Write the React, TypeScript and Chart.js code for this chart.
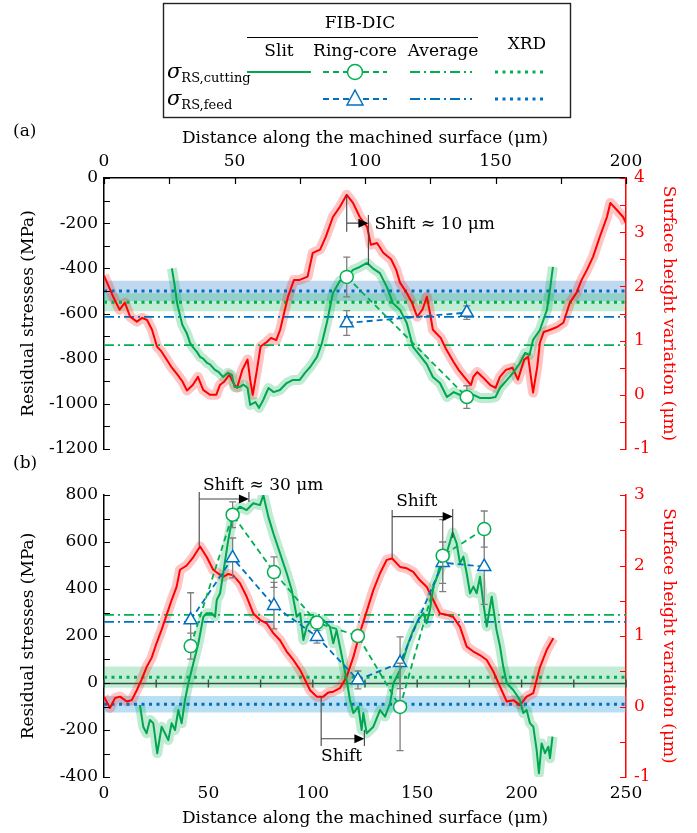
import React, { useEffect, useRef } from 'react';
import { Chart, registerables } from 'chart.js';
Chart.register(...registerables);

type P = [number, number];

const FONT = '"DejaVu Serif", "Liberation Serif", serif';
const FS = 17;
const RED = '#ff0000';
const GREEN = '#00a651';
const GREEN_RC = '#00b050';
const BLUE = '#0070c0';
const XLABEL = 'Distance along the machined surface (μm)';
const YLABEL = 'Residual stresses (MPa)';
const Y2LABEL = 'Surface height variation (μm)';

// ---------------- Panel (a) data ----------------
const surfaceA: P[] = [
  [0, 2.2], [3.5, 1.81], [6, 1.57], [8, 1.7], [10, 1.44], [12.6, 1.35], [14.6, 1.42], [16.5, 1.38], [18.4, 1.2], [20.3, 0.89],
  [22, 0.8], [24, 0.65], [26, 0.5], [28, 0.38], [30, 0.25], [31.8, 0.08], [34, 0.18], [36, 0.33], [38, 0.09], [40.6, 0.0],
  [43, 0.0], [44.4, 0.18], [46, 0.24], [48, 0.37], [50, 0.18], [51, 0.13], [53, 0.46], [55, 0.65], [56, 0.28], [57, 0.0],
  [58.6, 0.46], [60, 0.89], [62.5, 0.98], [64, 1.05], [66, 1.01], [67.5, 1.2], [69, 1.51], [70.5, 1.81], [72.8, 2.12], [75, 2.12],
  [78, 2.18], [80, 2.62], [82.8, 2.68], [85, 2.92], [87.7, 3.28], [90.4, 3.47], [93, 3.69], [95.4, 3.54], [98, 3.28], [100.8, 3.1],
  [101.5, 2.95], [102.2, 2.77], [104.6, 2.8], [107, 2.62], [110, 2.5], [112, 2.3], [113.4, 2.07], [116, 1.88], [118, 1.7], [120, 1.44],
  [122, 1.57], [123.7, 1.81], [124.9, 1.51], [126, 1.2], [129, 1.05], [131, 0.85], [134, 0.6], [136, 0.45], [138, 0.33], [140.6, 0.18],
  [141.5, 0.33], [143, 0.42], [145, 0.33], [148, 0.18], [150, 0.13], [151.7, 0.33], [154, 0.46], [156.5, 0.5], [158.6, 0.28], [161, 0.65],
  [162.5, 0.7], [164.4, 0.04], [166, 0.52], [167, 0.96], [168.5, 1.16], [171, 1.2], [173.6, 1.25], [176, 1.33], [178.5, 1.7], [181, 1.88],
  [183, 2.12], [185, 2.3], [187.4, 2.55], [190, 2.92], [192.7, 3.28], [194, 3.54], [196.5, 3.41], [198.9, 3.28], [200, 3.17],
];
const slitA: P[] = [
  [26, -400], [27, -470], [28, -554], [30, -650], [31.8, -690], [33, -731], [34, -748], [35.6, -770], [36.8, -792], [38, -800],
  [39.5, -819], [40.6, -825], [42.5, -850], [44, -860], [45.6, -881], [47.5, -863], [49, -872], [50, -925], [52, -925], [53.5, -915],
  [55, -930], [56, -1005], [58, -992], [59.4, -1018], [61, -983], [63, -930], [65, -948], [67.4, -939], [70, -908], [72.4, -894],
  [75, -894], [77, -863], [79, -837], [81.6, -792], [83.5, -731], [85.4, -640], [87.7, -510], [90.4, -455], [93, -438], [95.4, -407],
  [98, -394], [100.8, -376], [103, -400], [105.7, -421], [108.4, -483], [110.7, -554], [113.4, -584], [116, -642], [118.4, -748], [121, -785],
  [123.7, -825], [126, -881], [128.7, -908], [131.4, -970], [134, -948], [136.4, -961], [140, -952], [144, -974], [148, -974], [150, -970],
  [151.7, -930], [154.4, -894], [156.7, -863], [159.4, -819], [161.3, -775], [163, -784], [164.4, -717], [167, -673], [169.7, -584], [171, -483],
  [172, -394],
];
const ringXA = [93, 139];
const ringCutA = [-438, -970];
const ringCutAErr = [88, 50];
const ringFeedA = [-642, -596];
const ringFeedAErr = [55, 30];
const avgCutA = -740;
const avgFeedA = -615;
const xrdCutA = -550;
const xrdCutAErr = 40;
const xrdFeedA = -500;
const xrdFeedAErr = 45;

// ---------------- Panel (b) data ----------------
const surfaceB: P[] = [
  [0, 0.14], [2.9, -0.02], [5.3, 0.12], [7.7, 0.14], [10.9, 0.07], [13.3, 0.09], [15.7, 0.23], [18, 0.38], [20.4, 0.56], [22.8, 0.69],
  [25.2, 0.9], [27.6, 1.09], [30, 1.3], [32.4, 1.51], [34.8, 1.7], [36.4, 1.94], [39.6, 2.0], [42.8, 2.12], [46, 2.27], [49.2, 2.12],
  [52.3, 1.94], [55, 1.88], [57.1, 1.84], [59.5, 1.88], [61.9, 1.86], [65.1, 1.75], [68.3, 1.56], [71.5, 1.32], [74.7, 1.23], [77.9, 1.18],
  [81.1, 1.04], [84.3, 0.94], [87.5, 0.78], [90.7, 0.66], [93.9, 0.52], [97.1, 0.33], [98.7, 0.23], [101.9, 0.14], [105, 0.14], [107.5, 0.2],
  [109.8, 0.21], [113, 0.26], [116.2, 0.42], [119.4, 0.7], [122.6, 1.05], [125.8, 1.35], [129, 1.65], [132.2, 1.89], [135.4, 2.08], [138, 2.1],
  [141.8, 1.98], [145, 1.96], [148.1, 1.91], [151.3, 1.79], [154.5, 1.7], [157.7, 1.51], [160.9, 1.32], [164.1, 1.3], [167.3, 1.27], [170.5, 1.13],
  [173.7, 0.85], [176.9, 0.78], [180, 0.73], [183.3, 0.66], [186.4, 0.5], [189.7, 0.28], [192.9, 0.07], [196, 0.09], [199.2, 0.02], [202.4, 0.14],
  [205.6, 0.19], [208.8, 0.56], [212, 0.8], [215.2, 0.97],
];
const slitB: P[] = [
  [17.2, -94], [18.8, -186], [20.4, -214], [22, -157], [23.6, -171], [25.5, -299], [27.6, -186], [29.2, -214], [30.8, -243], [32.4, -171],
  [34, -200], [35.6, -115], [37.2, -171], [38.8, -72], [40.4, -1], [42.8, 84], [45.2, 169], [47.6, 282], [49.2, 297], [51.6, 297],
  [53.2, 282], [54, 353], [55.6, 382], [57.1, 467], [59.5, 608], [61.9, 722], [65.1, 750], [68.3, 736], [71.5, 765], [74.7, 757],
  [76.3, 800], [78.7, 708], [81.1, 637], [84.3, 552], [87.5, 467], [89.9, 396], [92.3, 282], [93.9, 297], [95.5, 183], [97.1, 240],
  [100.2, 282], [103.4, 240], [105, 268], [108.2, 240], [109.8, 169], [111.4, 225], [113, 154], [114.6, 84], [116.2, 13], [117.8, -72],
  [119.4, -128], [121.8, -101], [123.4, -200], [124.2, -128], [125.8, -214], [129, -186], [132.2, -115], [134.6, -143], [137, -86], [138.6, -1],
  [141.8, 55], [143.3, 98], [145.7, 169], [148.1, 225], [150.5, 268], [153, 297], [154.5, 254], [156.1, 311], [157.7, 410], [160.9, 481],
  [164.1, 552], [167, 640], [168.9, 594], [170.5, 509], [172.1, 538], [173.7, 467], [175.3, 382], [176.9, 410], [178.5, 382], [180.1, 452],
  [181.7, 339], [183.3, 240], [185.7, 367], [188, 225], [189.7, 154], [191.2, 70], [192.9, -1], [196, -30], [199.2, -72], [200.8, -128],
  [202.4, -115], [204, -171], [205.6, -186], [207.2, -285], [208.3, -384], [209.6, -257], [211.2, -299], [212.8, -271], [213.6, -320], [214.8, -228],
];
const ringXB = [41.5, 61.6, 81.4, 102, 121.6, 141.8, 162.2, 182.1];
const ringCutB = [157, 716, 472, 257, 200, -102, 542, 655];
const ringCutBErr = [55, 55, 65, 20, 20, 186, 153, 77];
const ringFeedB = [268, 532, 329, 197, 13, 86, 512, 495];
const ringFeedBErr = [116, 85, 99, 27, 38, 110, 88, 160];
const avgCutB = 290;
const avgFeedB = 260;
const xrdCutB = 25;
const xrdCutBErr = 45;
const xrdFeedB = -90;
const xrdFeedBErr = 35;

// Shift annotations (data coordinates on the stress axis)
interface Shift { x1: number; x2: number; l1: P; l2: P; ya: number; text: string; tx: number; ty: number; align: CanvasTextAlign }
const shiftsA: Shift[] = [
  { x1: 93, x2: 101.3, l1: [-75, -238], l2: [-164, -385], ya: -200, text: 'Shift ≈ 10 μm', tx: 103.6, ty: -208, align: 'left' },
];
const shiftsB: Shift[] = [
  { x1: 45.6, x2: 69.4, l1: [813, 583], l2: [813, 770], ya: 783, text: 'Shift ≈ 30 μm', tx: 47.4, ty: 842, align: 'left' },
  { x1: 138, x2: 167, l1: [736, 531], l2: [740, 617], ya: 708, text: 'Shift', tx: 149.8, ty: 771, align: 'center' },
  { x1: 104, x2: 124.7, l1: [-59, -268], l2: [-200, -268], ya: -237, text: 'Shift', tx: 113.8, ty: -314, align: 'center' },
];

const toPts = (a: P[]) => a.map(([x, y]) => ({ x, y }));
const hline = (y: number, x1: number) => [{ x: 0, y }, { x: x1, y }];
const zipPts = (xs: number[], ys: number[]) => xs.map((x, i) => ({ x, y: ys[i] }));

interface PanelData {
  surface: P[]; slit: P[]; ringX: number[]; ringCut: number[]; ringCutErr: number[]; ringFeed: number[]; ringFeedErr: number[];
  avgCut: number; avgFeed: number; xrdCut: number; xrdCutErr: number; xrdFeed: number; xrdFeedErr: number; xMax: number; blueBand: string;
}

function buildDatasets(d: PanelData): any[] {
  const base = { pointRadius: 0, pointHoverRadius: 0, tension: 0, fill: false, borderJoinStyle: 'round' as const };
  return [
    { ...base, data: hline(d.xrdFeed - d.xrdFeedErr, d.xMax), borderWidth: 0, borderColor: 'transparent', fill: { value: d.xrdFeed + d.xrdFeedErr }, backgroundColor: d.blueBand, order: 100 },
    { ...base, data: hline(d.xrdCut - d.xrdCutErr, d.xMax), borderWidth: 0, borderColor: 'transparent', fill: { value: d.xrdCut + d.xrdCutErr }, backgroundColor: 'rgba(0,176,80,0.24)', order: 99 },
    { ...base, data: toPts(d.surface), yAxisID: 'y2', borderWidth: 10, borderColor: 'rgba(255,40,40,0.27)', order: 90 },
    { ...base, data: toPts(d.slit), borderWidth: 10, borderColor: 'rgba(0,176,80,0.25)', order: 89 },
    { ...base, data: hline(d.avgCut, d.xMax), borderWidth: 1.8, borderColor: GREEN_RC, borderDash: [10, 4, 2, 4], order: 60 },
    { ...base, data: hline(d.avgFeed, d.xMax), borderWidth: 1.8, borderColor: BLUE, borderDash: [10, 4, 2, 4], order: 59 },
    { ...base, data: hline(d.xrdCut, d.xMax), borderWidth: 3, borderColor: GREEN_RC, borderDash: [3, 4.5], order: 58 },
    { ...base, data: hline(d.xrdFeed, d.xMax), borderWidth: 3, borderColor: BLUE, borderDash: [3, 4.5], order: 57 },
    { ...base, data: toPts(d.surface), yAxisID: 'y2', borderWidth: 2, borderColor: RED, order: 40 },
    { ...base, data: toPts(d.slit), borderWidth: 2, borderColor: GREEN, order: 39 },
    {
      ...base, data: zipPts(d.ringX, d.ringFeed), errors: d.ringFeedErr, borderWidth: 1.8, borderColor: BLUE, borderDash: [6, 4],
      pointRadius: 7.5, pointStyle: 'triangle', pointBackgroundColor: '#ffffff', pointBorderColor: BLUE, pointBorderWidth: 1.5, order: 11,
    },
    {
      ...base, data: zipPts(d.ringX, d.ringCut), errors: d.ringCutErr, borderWidth: 1.8, borderColor: GREEN_RC, borderDash: [6, 4],
      pointRadius: 6.5, pointStyle: 'circle', pointBackgroundColor: '#ffffff', pointBorderColor: GREEN_RC, pointBorderWidth: 1.5, order: 10,
    },
  ];
}

interface OverlayCfg { xStep: number; yStep: number; y2Step: number; topTicks: boolean; zeroAxis: boolean; shifts: Shift[] }

function overlayPlugin(cfg: OverlayCfg) {
  return {
    id: 'overlay',
    beforeDatasetsDraw(chart: any) {
      if (!cfg.zeroAxis) return;
      const { ctx, chartArea: ca, scales } = chart;
      const py = Math.round(scales.y.getPixelForValue(0)) + 0.5;
      ctx.save();
      ctx.strokeStyle = '#3c3c3c';
      ctx.lineWidth = 1.4;
      ctx.beginPath();
      ctx.moveTo(ca.left, py);
      ctx.lineTo(ca.right, py);
      for (let v = scales.x.min; v <= scales.x.max + 1e-6; v += cfg.xStep) {
        const px = scales.x.getPixelForValue(v);
        ctx.moveTo(px, py - 4);
        ctx.lineTo(px, py + 4);
      }
      ctx.stroke();
      ctx.restore();
    },
    beforeDatasetDraw(chart: any, args: any) {
      const ds = chart.data.datasets[args.index];
      if (!ds.errors) return;
      const { ctx, scales } = chart;
      ctx.save();
      ctx.strokeStyle = '#7f7f7f';
      ctx.lineWidth = 1.3;
      ctx.beginPath();
      ds.data.forEach((p: any, i: number) => {
        const e = ds.errors[i];
        const px = scales.x.getPixelForValue(p.x);
        const y1 = scales.y.getPixelForValue(p.y + e);
        const y2 = scales.y.getPixelForValue(p.y - e);
        ctx.moveTo(px, y1); ctx.lineTo(px, y2);
        ctx.moveTo(px - 3.5, y1); ctx.lineTo(px + 3.5, y1);
        ctx.moveTo(px - 3.5, y2); ctx.lineTo(px + 3.5, y2);
      });
      ctx.stroke();
      ctx.restore();
    },
    afterDraw(chart: any) {
      const { ctx, chartArea: ca, scales } = chart;
      const L = 6;
      ctx.save();
      ctx.lineWidth = 1.2;
      ctx.strokeStyle = '#000';
      ctx.beginPath();
      for (let v = scales.y.min; v <= scales.y.max + 1e-6; v += cfg.yStep) {
        const py = Math.round(scales.y.getPixelForValue(v)) + 0.5;
        ctx.moveTo(ca.left, py); ctx.lineTo(ca.left + L, py);
      }
      if (cfg.topTicks) {
        for (let v = scales.x.min; v <= scales.x.max + 1e-6; v += cfg.xStep) {
          const px = Math.round(scales.x.getPixelForValue(v)) + 0.5;
          ctx.moveTo(px, ca.top); ctx.lineTo(px, ca.top + L);
        }
      }
      ctx.stroke();
      ctx.strokeStyle = RED;
      ctx.beginPath();
      for (let v = scales.y2.min; v <= scales.y2.max + 1e-6; v += cfg.y2Step) {
        const py = Math.round(scales.y2.getPixelForValue(v)) + 0.5;
        ctx.moveTo(ca.right - L, py); ctx.lineTo(ca.right, py);
      }
      ctx.stroke();
      ctx.lineWidth = 1.1;
      for (const s of cfg.shifts) {
        const X1 = scales.x.getPixelForValue(s.x1);
        const X2 = scales.x.getPixelForValue(s.x2);
        const YA = scales.y.getPixelForValue(s.ya);
        ctx.strokeStyle = '#444';
        ctx.beginPath();
        ctx.moveTo(X1, scales.y.getPixelForValue(s.l1[0])); ctx.lineTo(X1, scales.y.getPixelForValue(s.l1[1]));
        ctx.moveTo(X2, scales.y.getPixelForValue(s.l2[0])); ctx.lineTo(X2, scales.y.getPixelForValue(s.l2[1]));
        ctx.moveTo(X1, YA); ctx.lineTo(X2 - 8, YA);
        ctx.stroke();
        ctx.fillStyle = '#000';
        ctx.beginPath();
        ctx.moveTo(X2, YA); ctx.lineTo(X2 - 10, YA - 4.5); ctx.lineTo(X2 - 10, YA + 4.5); ctx.closePath();
        ctx.fill();
        ctx.font = `${FS}px ${FONT}`;
        ctx.textAlign = s.align;
        ctx.textBaseline = 'middle';
        ctx.fillText(s.text, scales.x.getPixelForValue(s.tx), scales.y.getPixelForValue(s.ty));
      }
      ctx.restore();
    },
  };
}

const axisFont = { family: FONT, size: FS };

function makeOptions(opts: { xMax: number; yMin: number; yMax: number; y2Min: number; y2Max: number; xTop: boolean; padTop: number; padBottom: number; xAxisH: number }): any {
  return {
    responsive: false,
    animation: false,
    events: [],
    layout: { padding: { top: opts.padTop, bottom: opts.padBottom, left: 0, right: 0 } },
    plugins: { legend: { display: false }, tooltip: { enabled: false } },
    scales: {
      x: {
        type: 'linear', position: opts.xTop ? 'top' : 'bottom', min: 0, max: opts.xMax,
        ticks: { stepSize: 50, color: '#000', font: axisFont, padding: opts.xTop ? 6 : 6, maxRotation: 0, callback: (v: any) => String(v) },
        grid: { display: opts.xTop, drawOnChartArea: false, drawTicks: false, color: 'transparent' },
        border: { display: opts.xTop, color: '#000', width: 1.5 },
        title: { display: true, text: XLABEL, color: '#000', font: axisFont, padding: { top: opts.xTop ? 10 : 4, bottom: opts.xTop ? 2 : 4 } },
        afterFit: (s: any) => { s.height = opts.xAxisH; },
      },
      y: {
        type: 'linear', position: 'left', min: opts.yMin, max: opts.yMax,
        ticks: { stepSize: 200, color: '#000', font: axisFont, padding: 6, callback: (v: any) => String(v) },
        grid: { display: true, drawOnChartArea: false, drawTicks: false, color: 'transparent' },
        border: { display: true, color: '#000', width: 1.5 },
        title: { display: true, text: YLABEL, color: '#000', font: axisFont, padding: { top: 18, bottom: 0 } },
        afterFit: (s: any) => { s.width = 104; },
      },
      y2: {
        type: 'linear', position: 'right', min: opts.y2Min, max: opts.y2Max,
        ticks: { stepSize: 1, color: RED, font: axisFont, padding: 8, callback: (v: any) => String(v) },
        grid: { display: true, drawOnChartArea: false, drawTicks: false, color: 'transparent' },
        border: { display: true, color: RED, width: 1.5 },
        title: { display: true, text: Y2LABEL, color: RED, font: axisFont, padding: { top: 18, bottom: 0 } },
        afterFit: (s: any) => { s.width = 71; },
      },
    },
  };
}

function Panel(props: { top: number; height: number; data: PanelData; options: any; overlay: OverlayCfg }) {
  const ref = useRef<HTMLCanvasElement | null>(null);
  useEffect(() => {
    if (!ref.current) return;
    const chart = new Chart(ref.current, {
      type: 'line',
      data: { datasets: buildDatasets(props.data) },
      options: props.options,
      plugins: [overlayPlugin(props.overlay)],
    } as any);
    return () => chart.destroy();
  }, []);
  return (
    <canvas
      ref={ref}
      width={697}
      height={props.height}
      style={{ position: 'absolute', left: 0, top: props.top, width: 697, height: props.height }}
    />
  );
}

function Legend() {
  const t = { fontFamily: FONT, fontSize: FS, fill: '#000' } as any;
  const rowY = [72, 99];
  return (
    <svg width={697} height={833} style={{ position: 'absolute', left: 0, top: 0, pointerEvents: 'none' }}>
      <rect x={163.5} y={3.5} width={407} height={114} fill="none" stroke="#222" strokeWidth={1.4} />
      <text x={360} y={28} textAnchor="middle" {...t}>FIB-DIC</text>
      <line x1={247} y1={37.5} x2={478} y2={37.5} stroke="#000" strokeWidth={1.2} />
      <text x={279} y={56} textAnchor="middle" {...t}>Slit</text>
      <text x={355} y={56} textAnchor="middle" {...t}>Ring-core</text>
      <text x={443} y={56} textAnchor="middle" {...t}>Average</text>
      <text x={527} y={49} textAnchor="middle" {...t}>XRD</text>
      <text x={167} y={78} {...t}>
        <tspan fontStyle="italic" fontSize={21}>σ</tspan>
        <tspan fontSize={13} dy={4}>RS,cutting</tspan>
      </text>
      <text x={167} y={105} {...t}>
        <tspan fontStyle="italic" fontSize={21}>σ</tspan>
        <tspan fontSize={13} dy={4}>RS,feed</tspan>
      </text>
      <line x1={247} y1={rowY[0]} x2={311} y2={rowY[0]} stroke={GREEN} strokeWidth={2} />
      <line x1={323} y1={rowY[0]} x2={387} y2={rowY[0]} stroke={GREEN_RC} strokeWidth={1.8} strokeDasharray="6 4" />
      <circle cx={355} cy={rowY[0]} r={7.5} fill="#fff" stroke={GREEN_RC} strokeWidth={1.5} />
      <line x1={410} y1={rowY[0]} x2={472} y2={rowY[0]} stroke={GREEN_RC} strokeWidth={1.8} strokeDasharray="10 4 2 4" />
      <line x1={495} y1={rowY[0]} x2={547} y2={rowY[0]} stroke={GREEN_RC} strokeWidth={3} strokeDasharray="3 4.5" />
      <line x1={323} y1={rowY[1]} x2={387} y2={rowY[1]} stroke={BLUE} strokeWidth={1.8} strokeDasharray="6 4" />
      <polygon points={`355,${rowY[1] - 9} 363,${rowY[1] + 6} 347,${rowY[1] + 6}`} fill="#fff" stroke={BLUE} strokeWidth={1.5} />
      <line x1={410} y1={rowY[1]} x2={472} y2={rowY[1]} stroke={BLUE} strokeWidth={1.8} strokeDasharray="10 4 2 4" />
      <line x1={495} y1={rowY[1]} x2={547} y2={rowY[1]} stroke={BLUE} strokeWidth={3} strokeDasharray="3 4.5" />
      <text x={13} y={136} {...t}>(a)</text>
      <text x={13} y={468} {...t}>(b)</text>
    </svg>
  );
}

export default function App() {
  const dataA: PanelData = {
    surface: surfaceA, slit: slitA, ringX: ringXA, ringCut: ringCutA, ringCutErr: ringCutAErr, ringFeed: ringFeedA, ringFeedErr: ringFeedAErr,
    avgCut: avgCutA, avgFeed: avgFeedA, xrdCut: xrdCutA, xrdCutErr: xrdCutAErr, xrdFeed: xrdFeedA, xrdFeedErr: xrdFeedAErr, xMax: 200,
    blueBand: 'rgba(90,150,215,0.38)',
  };
  const dataB: PanelData = {
    surface: surfaceB, slit: slitB, ringX: ringXB, ringCut: ringCutB, ringCutErr: ringCutBErr, ringFeed: ringFeedB, ringFeedErr: ringFeedBErr,
    avgCut: avgCutB, avgFeed: avgFeedB, xrdCut: xrdCutB, xrdCutErr: xrdCutBErr, xrdFeed: xrdFeedB, xrdFeedErr: xrdFeedBErr, xMax: 250,
    blueBand: 'rgba(70,170,225,0.38)',
  };
  const optsA = makeOptions({ xMax: 200, yMin: -1200, yMax: 0, y2Min: -1, y2Max: 4, xTop: true, padTop: 0, padBottom: 21, xAxisH: 60 });
  const optsB = makeOptions({ xMax: 250, yMin: -400, yMax: 800, y2Min: -1, y2Max: 3, xTop: false, padTop: 25, padBottom: 0, xAxisH: 56 });
  return (
    <div style={{ position: 'absolute', left: 0, top: 0, width: 697, height: 833, background: '#fff' }}>
      <Panel top={118} height={352} data={dataA} options={optsA}
        overlay={{ xStep: 25, yStep: 100, y2Step: 0.5, topTicks: true, zeroAxis: false, shifts: shiftsA }} />
      <Panel top={470} height={363} data={dataB} options={optsB}
        overlay={{ xStep: 25, yStep: 100, y2Step: 0.5, topTicks: false, zeroAxis: true, shifts: shiftsB }} />
      <Legend />
    </div>
  );
}
